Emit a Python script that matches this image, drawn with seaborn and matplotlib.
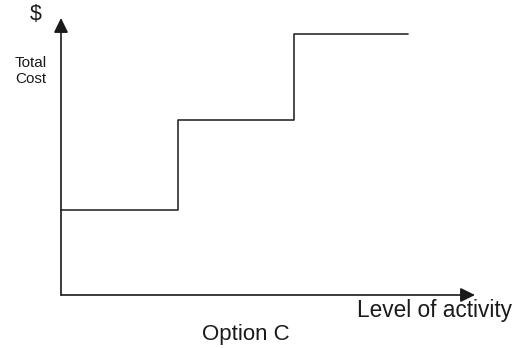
import matplotlib
matplotlib.use("Agg")
import matplotlib.pyplot as plt
import pandas as pd
import seaborn as sns

# step cost function (arbitrary units, origin at the axis corner)
activity = [0, 117, 233, 347]
total_cost = [85, 175, 261, 261]

x_axis_end = 414
y_axis_end = 277

sns.set_style("white")
plt.rcParams['font.family'] = ['Liberation Sans', 'DejaVu Sans']

fig = plt.figure(figsize=(5.24, 3.48), dpi=100)
ax = fig.add_axes([0, 0, 1, 1])

df = pd.DataFrame({"activity": activity, "cost": total_cost})
sns.lineplot(data=df, x="activity", y="cost", ax=ax, drawstyle="steps-post",
             color="#2b2b2b", linewidth=1.2)

# axes drawn as arrows
arrow = dict(arrowstyle="-|>,head_length=0.55,head_width=0.27", color="#1a1a1a",
             lw=1.2, mutation_scale=16, shrinkA=0, shrinkB=0)
ax.annotate("", xy=(0, y_axis_end), xytext=(0, 0), arrowprops=arrow)
ax.annotate("", xy=(x_axis_end, 0), xytext=(0, 0), arrowprops=arrow)

ax.text(-25, 280, "$", fontsize=15.5, ha="center", va="center", color="#1a1a1a")
ax.text(-46, 224, "Total\nCost", fontsize=11, ha="left", va="center",
        color="#1a1a1a", linespacing=1.25)
ax.text(296, -22, "Level of activity", fontsize=16.3, ha="left", va="baseline",
        color="#1a1a1a")
ax.text(185, -45, "Option C", fontsize=16, ha="center", va="baseline",
        color="#1a1a1a")

ax.set_xlim(-61, 463)
ax.set_ylim(-53, 295)
ax.axis("off")

fig.savefig("out.png", dpi=100)
